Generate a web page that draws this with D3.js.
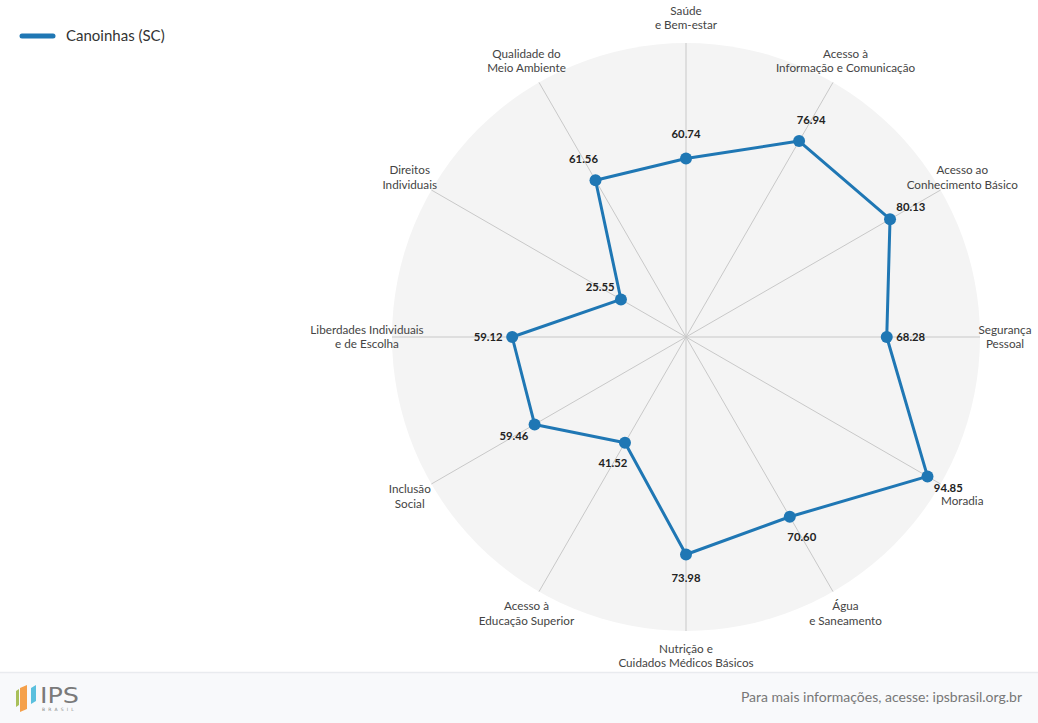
<!DOCTYPE html>
<html>
<head>
<meta charset="utf-8">
<script src="https://cdn.jsdelivr.net/npm/d3@7"></script>
<style>
  html, body { margin: 0; padding: 0; background: #fff; }
  body { width: 1038px; height: 723px; overflow: hidden; font-family: "Lato", "Noto Sans", sans-serif; }
</style>
</head>
<body>
<svg id="chart" width="1038" height="723"></svg>
<script>
// ---- Data ----
const categories = [
  ["Saúde", "e Bem-estar"],
  ["Acesso à", "Informação e Comunicação"],
  ["Acesso ao", "Conhecimento Básico"],
  ["Segurança", "Pessoal"],
  ["Moradia"],
  ["Água", "e Saneamento"],
  ["Nutrição e", "Cuidados Médicos Básicos"],
  ["Acesso à", "Educação Superior"],
  ["Inclusão", "Social"],
  ["Liberdades Individuais", "e de Escolha"],
  ["Direitos", "Individuais"],
  ["Qualidade do", "Meio Ambiente"]
];
const seriesName = "Canoinhas (SC)";
const values = [60.74, 76.94, 80.13, 68.28, 94.85, 70.60, 73.98, 41.52, 59.46, 59.12, 25.55, 61.56];
const footerText = "Para mais informações, acesse: ipsbrasil.org.br";

// ---- Layout ----
const W = 1038, H = 723;
const cx = 686, cy = 337, R = 294;
const color = "#1f77b4";
const font = "Lato, 'Noto Sans', sans-serif";

const svg = d3.select("#chart");
const n = categories.length;
const angle = d3.scaleLinear().domain([0, n]).range([0, 2 * Math.PI]);
const rScale = d3.scaleLinear().domain([0, 100]).range([0, R]);

const g = svg.append("g").attr("transform", `translate(${cx},${cy})`);

// background circle
g.append("circle").attr("r", R).attr("fill", "#f4f4f4");

const px = (i, r) => Math.sin(angle(i)) * r;
const py = (i, r) => -Math.cos(angle(i)) * r;

// axes
g.selectAll("line.axis").data(categories).join("line")
  .attr("class", "axis")
  .attr("x1", 0).attr("y1", 0)
  .attr("x2", (d, i) => px(i, R)).attr("y2", (d, i) => py(i, R))
  .attr("stroke", "#c8c8c8").attr("stroke-width", 1);

// axis labels
const labelR = R + 25;
const lineH = 14.5;
const lab = g.selectAll("text.cat").data(categories).join("text")
  .attr("class", "cat")
  .attr("text-anchor", "middle")
  .attr("font-family", font)
  .attr("font-size", 11.7)
  .attr("fill", "#444");
lab.each(function(d, i) {
  const x = px(i, labelR), y = py(i, labelR);
  const t = d3.select(this);
  const off = d.length === 1 ? lineH / 3 : -(d.length - 1) * lineH / 2;
  d.forEach((s, k) => {
    t.append("tspan").attr("x", x).attr("y", y + off + k * lineH).attr("dy", "0.35em").text(s);
  });
});

// series line
const radial = d3.lineRadial()
  .angle((d, i) => angle(i))
  .radius(d => rScale(d))
  .curve(d3.curveLinearClosed);

g.append("path").datum(values)
  .attr("d", radial)
  .attr("fill", "none")
  .attr("stroke", color)
  .attr("stroke-width", 3)
  .attr("stroke-linejoin", "round");

g.selectAll("circle.pt").data(values).join("circle")
  .attr("class", "pt")
  .attr("cx", (d, i) => px(i, rScale(d)))
  .attr("cy", (d, i) => py(i, rScale(d)))
  .attr("r", 6)
  .attr("fill", color);

// value labels
g.selectAll("text.val").data(values).join("text")
  .attr("class", "val")
  .attr("x", (d, i) => px(i, rScale(d) + 24))
  .attr("y", (d, i) => py(i, rScale(d) + 24))
  .attr("dy", "0.35em")
  .attr("text-anchor", "middle")
  .attr("font-family", font)
  .attr("font-size", 11.3)
  .attr("font-weight", "bold")
  .attr("fill", "#222")
  .text(d => d.toFixed(2));

// legend
const leg = svg.append("g").attr("transform", "translate(20,36)");
leg.append("line").attr("x1", 2).attr("x2", 33).attr("y1", 0).attr("y2", 0)
  .attr("stroke", color).attr("stroke-width", 5).attr("stroke-linecap", "round");
leg.append("text").attr("x", 46).attr("y", 0).attr("dy", "0.35em")
  .attr("font-family", font).attr("font-size", 15).attr("fill", "#333")
  .text(seriesName);

// footer
const footY = 672;
svg.append("rect").attr("x", 0).attr("y", footY).attr("width", W).attr("height", H - footY).attr("fill", "#f8f9fb");
svg.append("line").attr("x1", 0).attr("x2", W).attr("y1", footY + 0.5).attr("y2", footY + 0.5)
  .attr("stroke", "#e9ebef").attr("stroke-width", 1.5);
svg.append("text").attr("x", 1022).attr("y", 697).attr("dy", "0.35em")
  .attr("text-anchor", "end").attr("font-family", font).attr("font-size", 14).attr("fill", "#777")
  .text(footerText);

// logo
const logo = svg.append("g");
logo.append("polygon").attr("points", "16,691 19,689 19,705 16,707").attr("fill", "#a9c05a");
logo.append("polygon").attr("points", "20,688 27,685 27,709 20,712").attr("fill", "#f5a04a");
logo.append("polygon").attr("points", "31,688 36,685 36,701 31,704").attr("fill", "#5bc0de");
logo.append("text").attr("x", 40).attr("y", 703).attr("font-family", "'DejaVu Sans', sans-serif")
  .attr("font-size", 21).attr("fill", "#7a7a7a").attr("textLength", 39).attr("lengthAdjust", "spacingAndGlyphs").text("IPS");
logo.append("text").attr("x", 42).attr("y", 711).attr("font-family", "'DejaVu Sans', sans-serif")
  .attr("font-size", 4.5).attr("fill", "#888").attr("letter-spacing", 3.2).text("BRASIL");
</script>
</body>
</html>
